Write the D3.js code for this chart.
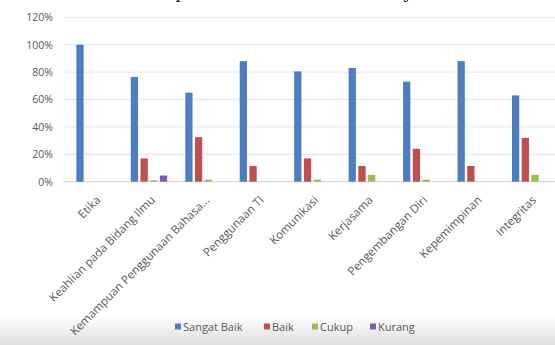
<!DOCTYPE html>
<html><head><meta charset="utf-8">
<script src="https://cdn.jsdelivr.net/npm/d3@7"></script>
<style>html,body{margin:0;padding:0;background:#fff;overflow:hidden}</style>
</head><body>
<svg id="c" width="555" height="345"></svg>
<script>
const categories = ["Etika","Keahlian pada Bidang Ilmu","Kemampuan Penggunaan Bahasa...","Penggunaan TI","Komunikasi","Kerjasama","Pengembangan Diri","Kepemimpinan","Integritas"];
const seriesNames = ["Sangat Baik","Baik","Cukup","Kurang"];
const sangatBaik = [1.00,0.765,0.65,0.88,0.805,0.83,0.73,0.88,0.63];
const baik       = [0.00,0.17,0.325,0.115,0.17,0.115,0.24,0.115,0.32];
const cukup      = [0.00,0.01,0.015,0.00,0.015,0.05,0.015,0.00,0.05];
const kurang     = [0.00,0.045,0.00,0.00,0.00,0.00,0.00,0.00,0.00];
const yTicks = [0,0.2,0.4,0.6,0.8,1.0,1.2];
const colors = ["#4F7EC0","#C0504D","#9BBB59","#7B5FA2"];
const seriesValues = [sangatBaik,baik,cukup,kurang];

const svg = d3.select("#c");
const defs = svg.append("defs");
const g1 = defs.append("linearGradient").attr("id","bg").attr("x1",0).attr("y1",0).attr("x2",0).attr("y2",1);
g1.append("stop").attr("offset","0%").attr("stop-color","#ffffff");
g1.append("stop").attr("offset","100%").attr("stop-color","#dedede");
svg.append("rect").attr("x",0).attr("y",316).attr("width",555).attr("height",29).attr("fill","url(#bg)");

// cropped text line at the top (only descenders visible, as in the source image)
svg.append("text").attr("x",4).attr("y",-3).attr("font-family","Liberation Serif, serif")
  .attr("font-size",21).attr("fill","#111").text("ose some of these aspects that have been seen by the")

const x0 = d3.scaleBand().domain(categories).range([67.3,557.4]).paddingInner(0.2876).paddingOuter(0.1438);
const x1 = d3.scaleBand().domain(seriesNames).range([0,x0.bandwidth()]).paddingInner(0.25).paddingOuter(0.125);
const y = d3.scaleLinear().domain([0,1.2]).range([181.7,17.3]);

// gridlines
svg.append("g").selectAll("line").data(yTicks).join("line")
  .attr("x1",63).attr("x2",555).attr("y1",d=>y(d)).attr("y2",d=>y(d))
  .attr("stroke",d=>d===0?"#cfcfcf":"#e4e4e4").attr("stroke-width",1);

const yAxis = d3.axisLeft(y).tickValues(yTicks).tickFormat(d3.format(".0%")).tickSize(0).tickPadding(0);
const ya = svg.append("g").attr("transform","translate(53,0)").call(yAxis);
ya.select(".domain").remove();
ya.selectAll("text").attr("font-family","Open Sans, sans-serif").attr("font-size",10.5).attr("fill","#595959");

// bars
const groups = svg.append("g").selectAll("g").data(categories).join("g")
  .attr("transform",d=>`translate(${x0(d)},0)`);
groups.selectAll("rect").data((d,i)=>seriesNames.map((s,j)=>({s,v:seriesValues[j][i],j})))
  .join("rect")
  .attr("x",d=>x1(d.s)).attr("width",x1.bandwidth())
  .attr("y",d=>y(d.v)).attr("height",d=>y(0)-y(d.v))
  .attr("fill",d=>colors[d.j]);

// category labels
svg.append("g").selectAll("text").data(categories).join("text")
  .attr("transform",d=>`translate(${x0(d)+x0.bandwidth()/2+1},195) rotate(-45)`)
  .attr("text-anchor","end").attr("dy","0.7em")
  .attr("font-family","Open Sans, sans-serif").attr("font-size",11.6).attr("fill","#595959")
  .text(d=>d);

// legend
const legX = [175,264,312,370];
const leg = svg.append("g").selectAll("g").data(seriesNames).join("g")
  .attr("transform",(d,i)=>`translate(${legX[i]},327)`);
leg.append("rect").attr("x",0).attr("y",-3.5).attr("width",6).attr("height",6).attr("fill",(d,i)=>colors[i]);
leg.append("text").attr("x",8).attr("dy","0.35em").attr("font-family","Open Sans, sans-serif")
  .attr("font-size",11).attr("fill","#595959").text(d=>d);
</script>
</body></html>
